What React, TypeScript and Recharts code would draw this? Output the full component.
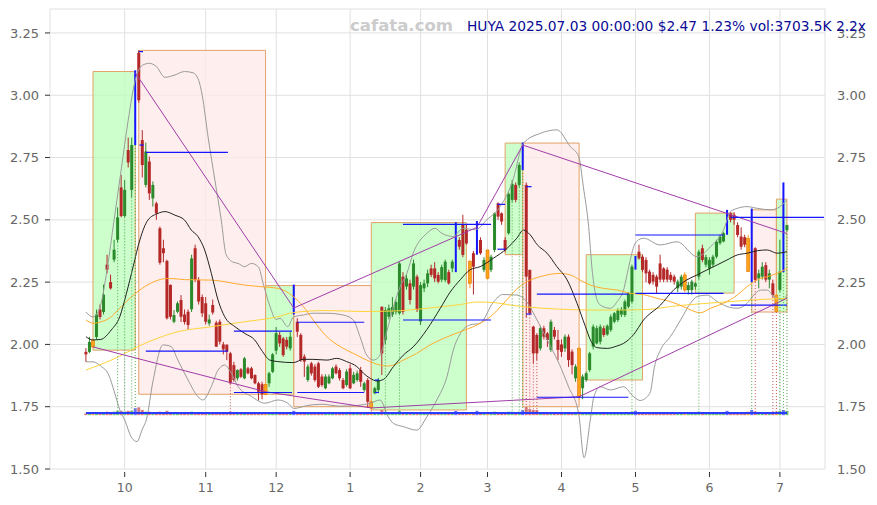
import React from 'react';
import { ComposedChart, Bar, Line, XAxis, YAxis, CartesianGrid, ReferenceArea, ReferenceLine } from 'recharts';

// ---- Candles (HUYA, daily, 2024-09-16 .. 2025-07-03), index = trading day ----
const opens = [
  1.97, 1.97, 1.99, 2.03, 2.14, 2.13, 2.32, 2.25, 2.34, 2.42,
  2.63, 2.515, 2.78, 2.62, 2.82, 3.17, 2.82, 2.64, 2.734, 2.586,
  2.566, 2.466, 2.386, 2.335, 2.239, 2.091, 2.131, 2.178, 2.12, 2.131,
  2.141, 2.386, 2.259, 2.19, 2.165, 2.084, 2.158, 2.087, 2.091, 2.0,
  1.999, 1.964, 1.917, 1.864, 1.9, 1.864, 1.904, 1.904, 1.877, 1.844,
  1.84, 1.8, 1.844, 1.89, 1.975, 2.038, 2.024, 2.018, 1.984, 2.125,
  2.091, 2.038, 1.951, 1.857, 1.924, 1.911, 1.924, 1.871, 1.824, 1.844,
  1.864, 1.911, 1.897, 1.857, 1.837, 1.904, 1.844, 1.857, 1.897, 1.817,
  1.857, 1.77, 1.804, 1.817, 2.151, 2.018, 2.111, 2.12, 2.13, 2.125,
  2.272, 2.232, 2.245, 2.232, 2.272, 2.092, 2.225, 2.245, 2.305, 2.305,
  2.279, 2.26, 2.258, 2.29, 2.305, 2.292, 2.419, 2.479, 2.46, 2.332,
  2.366, 2.366, 2.419, 2.299, 2.379, 2.299, 2.379, 2.566, 2.526, 2.419,
  2.446, 2.58, 2.64, 2.64, 2.707, 2.64, 2.299, 2.071, 2.038, 1.984,
  2.065, 2.044, 1.978, 2.058, 2.018, 2.0, 1.984, 2.031, 1.971, 1.864,
  1.984, 1.824, 1.857, 1.897, 1.991, 2.004, 2.011, 2.065, 2.04, 2.058,
  2.091, 2.098, 2.12, 2.118, 2.152, 2.172, 2.305, 2.372, 2.352, 2.339,
  2.292, 2.279, 2.272, 2.325, 2.305, 2.3, 2.279, 2.272, 2.225, 2.232,
  2.279, 2.218, 2.218, 2.232, 2.272, 2.386, 2.32, 2.305, 2.32, 2.352,
  2.406, 2.413, 2.446, 2.526, 2.52, 2.479, 2.433, 2.43, 2.426, 2.54,
  2.386, 2.265, 2.272, 2.318, 2.26, 2.245, 2.198, 2.218, 2.299, 2.459,
];
const highs = [
  1.985, 2.03, 2.02, 2.14, 2.16, 2.24, 2.36, 2.28, 2.42, 2.55,
  2.68, 2.66, 2.83, 2.83, 3.1, 3.18, 2.86, 2.81, 2.754, 2.654,
  2.573, 2.473, 2.42, 2.34, 2.24, 2.138, 2.172, 2.198, 2.14, 2.14,
  2.36, 2.4, 2.27, 2.2, 2.19, 2.12, 2.18, 2.095, 2.1, 2.01,
  2.0, 1.97, 1.93, 1.9, 1.905, 1.95, 1.91, 1.91, 1.88, 1.85,
  1.85, 1.845, 1.89, 1.965, 2.07, 2.05, 2.03, 2.03, 2.05, 2.24,
  2.105, 2.045, 1.96, 1.92, 1.93, 1.92, 1.93, 1.88, 1.88, 1.88,
  1.91, 1.92, 1.905, 1.865, 1.9, 1.92, 1.89, 1.895, 1.91, 1.85,
  1.865, 1.775, 1.83, 1.865, 2.152, 2.15, 2.16, 2.19, 2.18, 2.33,
  2.29, 2.28, 2.26, 2.34, 2.28, 2.25, 2.26, 2.3, 2.32, 2.33,
  2.29, 2.32, 2.34, 2.3, 2.34, 2.49, 2.43, 2.52, 2.48, 2.34,
  2.375, 2.495, 2.43, 2.35, 2.38, 2.36, 2.53, 2.57, 2.53, 2.43,
  2.61, 2.66, 2.65, 2.73, 2.81, 2.65, 2.3, 2.075, 2.045, 2.075,
  2.075, 2.05, 2.1, 2.07, 2.058, 2.02, 2.04, 2.04, 1.98, 1.92,
  1.99, 1.88, 1.89, 1.97, 2.08, 2.075, 2.08, 2.075, 2.08, 2.12,
  2.13, 2.145, 2.15, 2.18, 2.21, 2.32, 2.355, 2.4, 2.36, 2.35,
  2.3, 2.29, 2.28, 2.36, 2.31, 2.31, 2.29, 2.28, 2.26, 2.28,
  2.29, 2.25, 2.26, 2.25, 2.38, 2.4, 2.36, 2.35, 2.36, 2.42,
  2.44, 2.45, 2.54, 2.53, 2.53, 2.49, 2.47, 2.44, 2.44, 2.545,
  2.39, 2.3, 2.33, 2.33, 2.3, 2.26, 2.2, 2.42, 2.65, 2.48,
];
const lows = [
  1.93, 1.965, 1.985, 2.02, 2.1, 2.12, 2.285, 2.22, 2.33, 2.41,
  2.51, 2.51, 2.71, 2.59, 2.8, 2.97, 2.67, 2.63, 2.58, 2.553,
  2.5, 2.32, 2.33, 2.1, 2.1, 2.085, 2.125, 2.09, 2.08, 2.06,
  2.13, 2.25, 2.16, 2.11, 2.08, 2.075, 2.12, 1.99, 2.0, 1.96,
  1.937, 1.84, 1.85, 1.855, 1.865, 1.86, 1.88, 1.86, 1.84, 1.775,
  1.78, 1.795, 1.83, 1.885, 1.96, 1.99, 1.95, 1.98, 1.975, 2.12,
  2.03, 1.93, 1.87, 1.85, 1.875, 1.85, 1.825, 1.83, 1.82, 1.84,
  1.86, 1.88, 1.855, 1.82, 1.83, 1.82, 1.84, 1.85, 1.83, 1.81,
  1.745, 1.735, 1.8, 1.81, 1.877, 2.0, 2.1, 2.11, 2.12, 2.12,
  2.12, 2.22, 2.16, 2.22, 2.13, 2.078, 2.21, 2.23, 2.27, 2.25,
  2.245, 2.25, 2.25, 2.24, 2.29, 2.29, 2.38, 2.35, 2.4, 2.225,
  2.2, 2.36, 2.36, 2.29, 2.26, 2.29, 2.37, 2.5, 2.48, 2.37,
  2.44, 2.57, 2.57, 2.63, 2.7, 2.11, 2.12, 1.924, 1.937, 1.975,
  2.02, 1.99, 1.97, 2.02, 1.937, 1.95, 1.97, 1.91, 1.88, 1.85,
  1.78, 1.78, 1.85, 1.89, 1.98, 2.0, 2.0, 2.03, 2.035, 2.05,
  2.085, 2.09, 2.11, 2.11, 2.145, 2.165, 2.3, 2.34, 2.29, 2.25,
  2.24, 2.24, 2.205, 2.25, 2.25, 2.25, 2.25, 2.24, 2.21, 2.22,
  2.21, 2.2, 2.2, 2.22, 2.26, 2.33, 2.31, 2.28, 2.31, 2.345,
  2.4, 2.41, 2.44, 2.49, 2.48, 2.43, 2.38, 2.39, 2.29, 2.25,
  2.25, 2.225, 2.26, 2.25, 2.225, 2.19, 2.13, 2.21, 2.29, 2.455,
];
const closes = [
  1.96, 2.01, 2.015, 2.12, 2.11, 2.2, 2.3, 2.225, 2.38, 2.51,
  2.515, 2.62, 2.73, 2.8, 3.09, 2.98, 2.72, 2.774, 2.606, 2.64,
  2.526, 2.328, 2.366, 2.105, 2.111, 2.118, 2.165, 2.111, 2.09, 2.078,
  2.345, 2.259, 2.172, 2.125, 2.091, 2.1, 2.128, 1.991, 2.011, 1.98,
  1.971, 1.844, 1.857, 1.897, 1.87, 1.944, 1.884, 1.864, 1.844, 1.81,
  1.8, 1.84, 1.884, 1.96, 2.045, 2.004, 1.957, 1.991, 2.031, 2.235,
  2.051, 1.937, 1.931, 1.911, 1.884, 1.857, 1.83, 1.837, 1.871, 1.871,
  1.904, 1.884, 1.864, 1.824, 1.891, 1.824, 1.878, 1.884, 1.85, 1.844,
  1.77, 1.745, 1.824, 1.857, 1.964, 2.138, 2.145, 2.15, 2.17, 2.325,
  2.131, 2.265, 2.178, 2.325, 2.138, 2.238, 2.245, 2.285, 2.279, 2.265,
  2.252, 2.31, 2.332, 2.245, 2.332, 2.486, 2.392, 2.359, 2.405, 2.245,
  2.312, 2.493, 2.366, 2.339, 2.265, 2.352, 2.526, 2.513, 2.493, 2.379,
  2.604, 2.644, 2.58, 2.72, 2.807, 2.272, 2.125, 1.964, 1.964, 2.065,
  2.031, 2.018, 2.091, 2.031, 1.978, 1.97, 2.031, 1.937, 1.917, 1.911,
  1.79, 1.871, 1.884, 1.964, 2.071, 2.065, 2.071, 2.038, 2.075, 2.111,
  2.125, 2.138, 2.14, 2.172, 2.205, 2.312, 2.352, 2.345, 2.299, 2.285,
  2.245, 2.252, 2.232, 2.26, 2.26, 2.26, 2.259, 2.252, 2.252, 2.272,
  2.218, 2.238, 2.252, 2.245, 2.372, 2.339, 2.35, 2.339, 2.352, 2.412,
  2.433, 2.446, 2.533, 2.5, 2.5, 2.439, 2.392, 2.4, 2.292, 2.252,
  2.259, 2.285, 2.312, 2.26, 2.285, 2.198, 2.132, 2.292, 2.647, 2.479,
];
const volumes = [
  2, 2, 3, 3, 2, 3, 4, 3, 4, 5,
  5, 4, 5, 5, 8, 9, 6, 4, 4, 3,
  3, 4, 3, 5, 3, 2, 2, 2, 2, 2,
  4, 3, 2, 2, 2, 2, 2, 3, 2, 2,
  2, 4, 2, 2, 2, 2, 2, 2, 2, 3,
  2, 3, 2, 2, 3, 2, 2, 2, 2, 5,
  2, 2, 2, 2, 2, 2, 2, 2, 2, 2,
  2, 2, 2, 2, 2, 2, 2, 2, 2, 2,
  3, 3, 2, 2, 6, 4, 3, 2, 2, 5,
  3, 2, 2, 3, 2, 3, 2, 2, 2, 2,
  2, 2, 2, 2, 2, 5, 3, 3, 2, 3,
  3, 5, 2, 2, 3, 2, 4, 3, 2, 2,
  4, 4, 3, 4, 6, 9, 7, 6, 6, 3,
  2, 2, 3, 2, 2, 2, 2, 2, 2, 2,
  4, 3, 2, 2, 3, 2, 2, 2, 2, 2,
  2, 2, 2, 2, 2, 4, 5, 3, 2, 2,
  2, 2, 2, 2, 2, 2, 2, 2, 2, 2,
  3, 2, 2, 2, 4, 2, 2, 2, 2, 2,
  2, 2, 5, 2, 2, 2, 2, 2, 4, 6,
  4, 2, 2, 2, 2, 3, 4, 5, 6, 5,
];
const orangeCandles = [2, 51, 81, 109, 114, 140, 170, 188, 196];
const blueCandles = [14, 59, 105, 111, 124, 156, 182, 189, 198];

// ---- Axes ----
const monthTicks = [11, 34, 54, 75, 95, 114, 135, 156, 177, 197];
const monthLabels = ['10', '11', '12', '1', '2', '3', '4', '5', '6', '7'];
const yTicks = [1.5, 1.75, 2.0, 2.25, 2.5, 2.75, 3.0, 3.25];

// ---- Indicator lines: [index, value] ----
const maBlack = [[0,2.031],[2,2.018],[4.2,2.02],[7.2,2.058],[9.6,2.111],[11.5,2.205],[13.4,2.312],[15.3,2.419],[17.6,2.499],[20.5,2.526],[22.4,2.533],[25.2,2.519],[28,2.499],[29.9,2.459],[31.8,2.433],[33.7,2.379],[35.6,2.285],[37.5,2.178],[39.4,2.111],[42.3,2.071],[45.1,2.044],[47.9,2.018],[49.8,1.978],[52.2,1.937],[54.5,1.931],[58.9,1.927],[61.7,1.94],[64.5,1.94],[68.4,1.937],[71.2,1.944],[74,1.931],[76.9,1.911],[78.8,1.884],[80.7,1.864],[82.6,1.853],[84.5,1.86],[87.3,1.911],[90.1,1.957],[92.9,1.99],[96.8,2.06],[100.6,2.145],[103.4,2.21],[106.3,2.26],[109,2.299],[111.9,2.312],[115.7,2.346],[119.5,2.385],[122.3,2.426],[124.2,2.459],[126.1,2.44],[128.1,2.4],[130.9,2.366],[133.7,2.312],[136.6,2.259],[139.4,2.165],[141.8,2.071],[143.2,2.018],[145.1,1.987],[148,1.984],[150.8,1.994],[152.6,2.004],[155.5,2.04],[158.3,2.098],[163.1,2.158],[166.8,2.218],[170.6,2.259],[173.5,2.279],[176.3,2.299],[179.2,2.319],[182,2.339],[184.9,2.359],[187.7,2.366],[190.6,2.376],[193.4,2.379],[196.2,2.366],[199,2.372]];
const maOrange = [[0,2.098],[2,2.085],[4.2,2.09],[7.2,2.111],[10,2.151],[12.9,2.191],[16.7,2.232],[20.5,2.258],[23.3,2.265],[28,2.26],[35.6,2.258],[45.1,2.238],[49.4,2.232],[54.5,2.225],[58.9,2.192],[61.7,2.152],[64.5,2.098],[68.4,2.031],[72.2,1.991],[75.9,1.964],[79.7,1.937],[83.5,1.917],[85.4,1.913],[87.3,1.917],[90.1,1.937],[93.9,1.964],[97.7,1.998],[101.5,2.024],[106.3,2.051],[111,2.078],[114.8,2.111],[118.6,2.165],[122.3,2.222],[125.2,2.252],[129,2.272],[134.7,2.285],[137.5,2.279],[140.3,2.258],[143.2,2.238],[146.9,2.225],[150.8,2.218],[154.5,2.205],[158.3,2.2],[162.1,2.185],[165.9,2.172],[169.7,2.151],[174.4,2.127],[177.3,2.145],[181,2.165],[184.9,2.198],[187.7,2.232],[190.6,2.259],[193.4,2.272],[196.2,2.285],[199,2.305]];
const maYellow = [[0,1.897],[7.2,1.937],[16.7,2.004],[26.1,2.051],[35.6,2.071],[45.1,2.091],[54.5,2.111],[58.9,2.128],[68.4,2.136],[77.8,2.132],[87.3,2.134],[96.8,2.145],[106.3,2.16],[111,2.17],[115.7,2.168],[120.5,2.158],[125.2,2.15],[133.7,2.142],[143.2,2.138],[152.6,2.138],[160.1,2.141],[166,2.152],[173.5,2.162],[183,2.172],[192.5,2.181],[199,2.185]];
const bandUpper = [[0,2.13],[2,2.11],[4,2.15],[6,2.3],[8,2.5],[10,2.7],[12,2.9],[14,3.06],[16,3.12],[18,3.128],[20,3.115],[22.4,3.072],[25,3.08],[28,3.095],[30.4,3.09],[32,3.06],[33,3.0],[34.7,2.83],[36.6,2.66],[38.4,2.5],[39.8,2.36],[41.8,2.33],[43.2,2.325],[45,2.312],[47,2.325],[49,2.31],[50.3,2.245],[52.3,2.15],[54,2.1],[55.1,2.105],[57.3,2.071],[58.9,2.11],[61.7,2.118],[64.5,2.125],[68.4,2.125],[73,2.118],[75.9,2.098],[77.8,2.031],[79.7,1.957],[81.6,1.937],[83.5,1.957],[85.4,2.051],[87.3,2.152],[89.2,2.232],[91.1,2.285],[92.9,2.366],[96.8,2.446],[99.1,2.466],[101,2.446],[104.3,2.433],[107,2.466],[110.5,2.46],[113.8,2.5],[117.6,2.553],[121,2.65],[124.2,2.807],[129,2.847],[133.7,2.861],[137.5,2.794],[139.9,2.754],[141.2,2.633],[142.7,2.473],[143.7,2.299],[144.6,2.205],[146,2.158],[148.9,2.145],[150.8,2.172],[152.6,2.218],[154.1,2.312],[155.5,2.392],[156.9,2.42],[158.3,2.426],[163,2.399],[167.8,2.412],[173.5,2.352],[177.3,2.392],[181,2.459],[183,2.533],[184.9,2.546],[187.7,2.553],[190.6,2.546],[194.3,2.54],[196.2,2.546],[199,2.58]];
const bandLower = [[0,1.93],[2,1.93],[4.5,1.91],[6.25,1.884],[8.2,1.804],[9.6,1.737],[11,1.697],[13,1.625],[14.5,1.61],[16,1.66],[17.2,1.7],[19,1.85],[21.9,1.998],[24.2,1.991],[26.1,1.937],[29,1.857],[31.8,1.79],[33.2,1.777],[35.6,1.831],[37.5,1.897],[39.4,1.917],[41.3,1.884],[43.2,1.831],[47,1.791],[50.8,1.764],[54.5,1.777],[57.3,1.764],[59,1.743],[63,1.755],[67,1.76],[72,1.752],[77,1.755],[80.7,1.764],[83.5,1.777],[85.8,1.71],[87.3,1.683],[90.1,1.67],[93.9,1.656],[96.8,1.71],[99.6,1.777],[102.5,1.871],[104.3,1.978],[106.3,2.044],[109,2.078],[111.9,2.085],[115.7,2.17],[118.3,2.2],[122.3,2.198],[125.2,2.17],[127.6,2.11],[131.6,2.0],[134.4,1.92],[137,1.83],[139.9,1.72],[141.4,1.545],[143.2,1.7],[144.2,1.79],[146,1.83],[148.9,1.817],[152.6,1.83],[155.5,1.79],[157.3,1.775],[160.1,1.804],[161.4,1.911],[163.1,1.978],[165.9,2.031],[168.8,2.098],[171.6,2.165],[173.5,2.192],[176.3,2.198],[179.2,2.172],[182,2.152],[184.9,2.145],[187.7,2.165],[189.6,2.198],[191.5,2.218],[193.4,2.218],[195.3,2.192],[197.6,2.178],[199,2.198]];
const trendUpper = [[14,3.09],[59,2.146],[111,2.47],[124,2.8],[199,2.445]];
const trendLower = [[2,1.99],[51,1.81],[81,1.745],[140,1.79],[199,2.185]];
const volumeLine = [[0,1.725],[199,1.725]];

// ---- Boxes: [startIdx, endIdx, low, high, kind] ----
const boxes: [number, number, number, number, string][] = [
  [2, 14, 1.977, 3.095, 'up'],
  [15, 51, 1.8, 3.18, 'down'],
  [51, 59, 1.8, 2.236, 'up'],
  [59, 81, 1.75, 2.236, 'down'],
  [81, 108, 1.737, 2.489, 'up'],
  [119, 124, 2.36, 2.808, 'up'],
  [124, 140, 1.75, 2.808, 'down'],
  [142, 158, 1.857, 2.36, 'up'],
  [173, 184, 2.206, 2.527, 'up'],
  [189, 196, 2.13, 2.54, 'down'],
  [196, 199, 2.13, 2.583, 'up'],
];

// ---- Blue level segments: [startIdx, endIdx, level] ----
const levels: [number, number, number][] = [
  [17, 40.3, 2.771], [17, 40.3, 1.973],
  [42, 58.5, 2.053], [42, 58.5, 1.807],
  [60, 79, 2.089], [60, 79, 1.807],
  [90, 115, 2.482], [90, 115, 2.098],
  [128, 154, 2.202], [128, 154, 1.788],
  [156, 181, 2.439], [156, 181, 2.205],
  [183, 209.5, 2.51], [183, 199, 2.158],
  [15, 16.2, 3.175], [15.2, 16.4, 2.8],
  [116.8, 119, 2.562], [116.8, 119, 2.382],
  [125, 126.5, 2.633], [125, 126.5, 2.122],
  [82, 83.2, 1.857], [82, 83.2, 1.807],
];

// ---- Dotted signal verticals ----
const greenSignals = [9, 11, 13, 14, 85, 89, 121, 123, 124, 155, 174, 189, 197, 198, 199];
const redSignals = [41, 81, 125, 126, 127, 128, 190, 195, 196];

const GREEN = '#2b8a2b';
const RED = '#b42828';
const BLUE = '#1515ff';
const ORANGE = '#ffa21a';
const VOL_BASE = 1.716;

const candles = opens.map((o, i) => ({
  i,
  o,
  h: highs[i],
  l: lows[i],
  c: closes[i],
  vol: volumes[i],
  kind: blueCandles.includes(i) ? 'b' : orangeCandles.includes(i) ? 'o' : closes[i] >= o ? 'u' : 'd',
}));

const toPts = (arr: number[][]) => arr.map(([i, v]) => ({ i, v }));

const CandleShape = (props: any) => {
  const { x, y, width, height, payload } = props;
  if (x == null || y == null || !payload || !height) return null;
  const { o, h, l, c, kind, vol } = payload;
  const cx = x + width / 2;
  const top = Math.min(y, y + height);
  const hh = Math.abs(height);
  const ppu = hh / (h - l);
  const py = (v: number) => top + (h - v) * ppu;
  const color = kind === 'u' ? GREEN : kind === 'd' ? RED : kind === 'b' ? BLUE : ORANGE;
  const volColor = kind === 'u' ? '#6fbf6f' : kind === 'd' ? '#d47a7a' : kind === 'b' ? '#6f6fff' : '#f0a040';
  const vTop = py(VOL_BASE + 0.0035 * vol);
  const vBot = py(VOL_BASE);
  const bTop = py(Math.max(o, c));
  const bH = Math.max(1, Math.abs(py(o) - py(c)));
  return (
    <g>
      <rect x={cx - 1.5} y={vTop} width={3} height={vBot - vTop} fill={volColor} />
      {kind === 'b' ? (
        <rect x={cx - 1} y={py(h)} width={2} height={py(l) - py(h)} fill={BLUE} />
      ) : (
        <g>
          <line x1={cx} x2={cx} y1={py(h)} y2={py(l)} stroke={color} strokeWidth={1} />
          {kind === 'o' ? (
            <rect x={cx - 1.5} y={bTop} width={3} height={bH} fill={ORANGE} stroke="#e07b00" strokeWidth={0.6} />
          ) : (
            <rect x={cx - 1.5} y={bTop} width={3} height={bH} fill={color} />
          )}
        </g>
      )}
    </g>
  );
};

const XTick = (props: any) => {
  const { x, y, payload } = props;
  const k = monthTicks.indexOf(payload.value);
  return (
    <g>
      <line x1={x} x2={x} y1={y - 5} y2={y} stroke="#333" strokeWidth={1} />
      <text x={x} y={y + 15} textAnchor="middle" fill="#666" fontSize={12.5} fontFamily="DejaVu Sans">
        {k >= 0 ? monthLabels[k] : ''}
      </text>
    </g>
  );
};

const fmtY = (v: number) => v.toFixed(2);

export default function App() {
  return (
    <div style={{ position: 'absolute', left: 0, top: 0, width: 877, height: 505, background: '#fff' }}>
      <ComposedChart width={877} height={505} data={candles} margin={{ top: 9, right: 0, bottom: 0, left: 0 }}>
        {boxes.map(([a, b, lo, hi, k], n) => (
          <ReferenceArea
            key={'box' + n}
            x1={a}
            x2={b}
            y1={lo}
            y2={hi}
            fill={k === 'up' ? '#bbffbb' : '#ffe8e8'}
            fillOpacity={0.75}
            stroke="#e2a266"
            strokeWidth={1}
            ifOverflow="visible"
          />
        ))}
        <CartesianGrid stroke="#e0e0e0" />
        <XAxis
          dataKey="i"
          type="number"
          domain={[-10.2, 209.8]}
          ticks={monthTicks}
          allowDataOverflow
          axisLine={false}
          tickLine={false}
          tickSize={8}
          tickMargin={0}
          height={36}
          tick={<XTick />}
          interval={0}
        />
        <YAxis
          domain={[1.5, 3.346]}
          ticks={yTicks}
          allowDataOverflow
          width={50}
          axisLine={false}
          tickLine={{ stroke: '#333' }}
          tickSize={5}
          tickMargin={6}
          tickFormatter={fmtY}
          tick={{ fill: '#666', fontSize: 13, fontFamily: 'DejaVu Sans' }}
          interval={0}
        />
        <YAxis
          yAxisId="right"
          orientation="right"
          domain={[1.5, 3.346]}
          ticks={yTicks}
          allowDataOverflow
          width={52}
          axisLine={false}
          tickLine={false}
          tickSize={6}
          tickMargin={6}
          tickFormatter={fmtY}
          tick={{ fill: '#666', fontSize: 13, fontFamily: 'DejaVu Sans' }}
          interval={0}
        />
        <Line data={toPts(bandUpper)} dataKey="v" type="monotone" stroke="#9a9a9a" strokeWidth={1} dot={false} isAnimationActive={false} />
        <Line data={toPts(bandLower)} dataKey="v" type="monotone" stroke="#9a9a9a" strokeWidth={1} dot={false} isAnimationActive={false} />
        <Line data={toPts(maYellow)} dataKey="v" type="monotone" stroke="#ffd43a" strokeWidth={1} dot={false} isAnimationActive={false} />
        <Line data={toPts(maOrange)} dataKey="v" type="monotone" stroke="#ffac2e" strokeWidth={1} dot={false} isAnimationActive={false} />
        <Line data={toPts(maBlack)} dataKey="v" type="monotone" stroke="#222" strokeWidth={1} dot={false} isAnimationActive={false} />
        <Line data={toPts(trendUpper)} dataKey="v" type="linear" stroke="#a23ca8" strokeWidth={1} dot={false} isAnimationActive={false} />
        <Line data={toPts(trendLower)} dataKey="v" type="linear" stroke="#a23ca8" strokeWidth={1} dot={false} isAnimationActive={false} />
        {levels.map(([a, b, v], n) => (
          <ReferenceLine key={'lv' + n} segment={[{ x: a, y: v }, { x: b, y: v }]} stroke={BLUE} strokeWidth={1.2} />
        ))}
        {greenSignals.map((i) => (
          <ReferenceLine key={'gs' + i} segment={[{ x: i, y: lows[i] }, { x: i, y: 1.72 }]} stroke="#4fa84f" strokeDasharray="1 2" strokeWidth={1} />
        ))}
        {redSignals.map((i) => (
          <ReferenceLine key={'rs' + i} segment={[{ x: i, y: lows[i] }, { x: i, y: 1.72 }]} stroke="#c85050" strokeDasharray="1 2" strokeWidth={1} />
        ))}
        <Bar dataKey={(d: any) => [d.l, d.h]} barSize={3} shape={<CandleShape />} isAnimationActive={false} />
        <Line data={toPts(volumeLine)} dataKey="v" type="linear" stroke="#2a3cff" strokeWidth={2} dot={false} isAnimationActive={false} />
      </ComposedChart>
      <svg width={877} height={40} style={{ position: 'absolute', left: 0, top: 0 }}>
        <text x={350} y={31} fill="#cccccc" fontSize={16.5} fontWeight="bold" fontFamily="DejaVu Sans" textLength={103} lengthAdjust="spacingAndGlyphs">
          cafata.com
        </text>
        <text x={467} y={31} fill="#0a0a96" fontSize={14.5} fontFamily="DejaVu Sans" textLength={399} lengthAdjust="spacingAndGlyphs">
          HUYA 2025.07.03 00:00:00 $2.47 1.23% vol:3703.5K 2.2x
        </text>
      </svg>
    </div>
  );
}
